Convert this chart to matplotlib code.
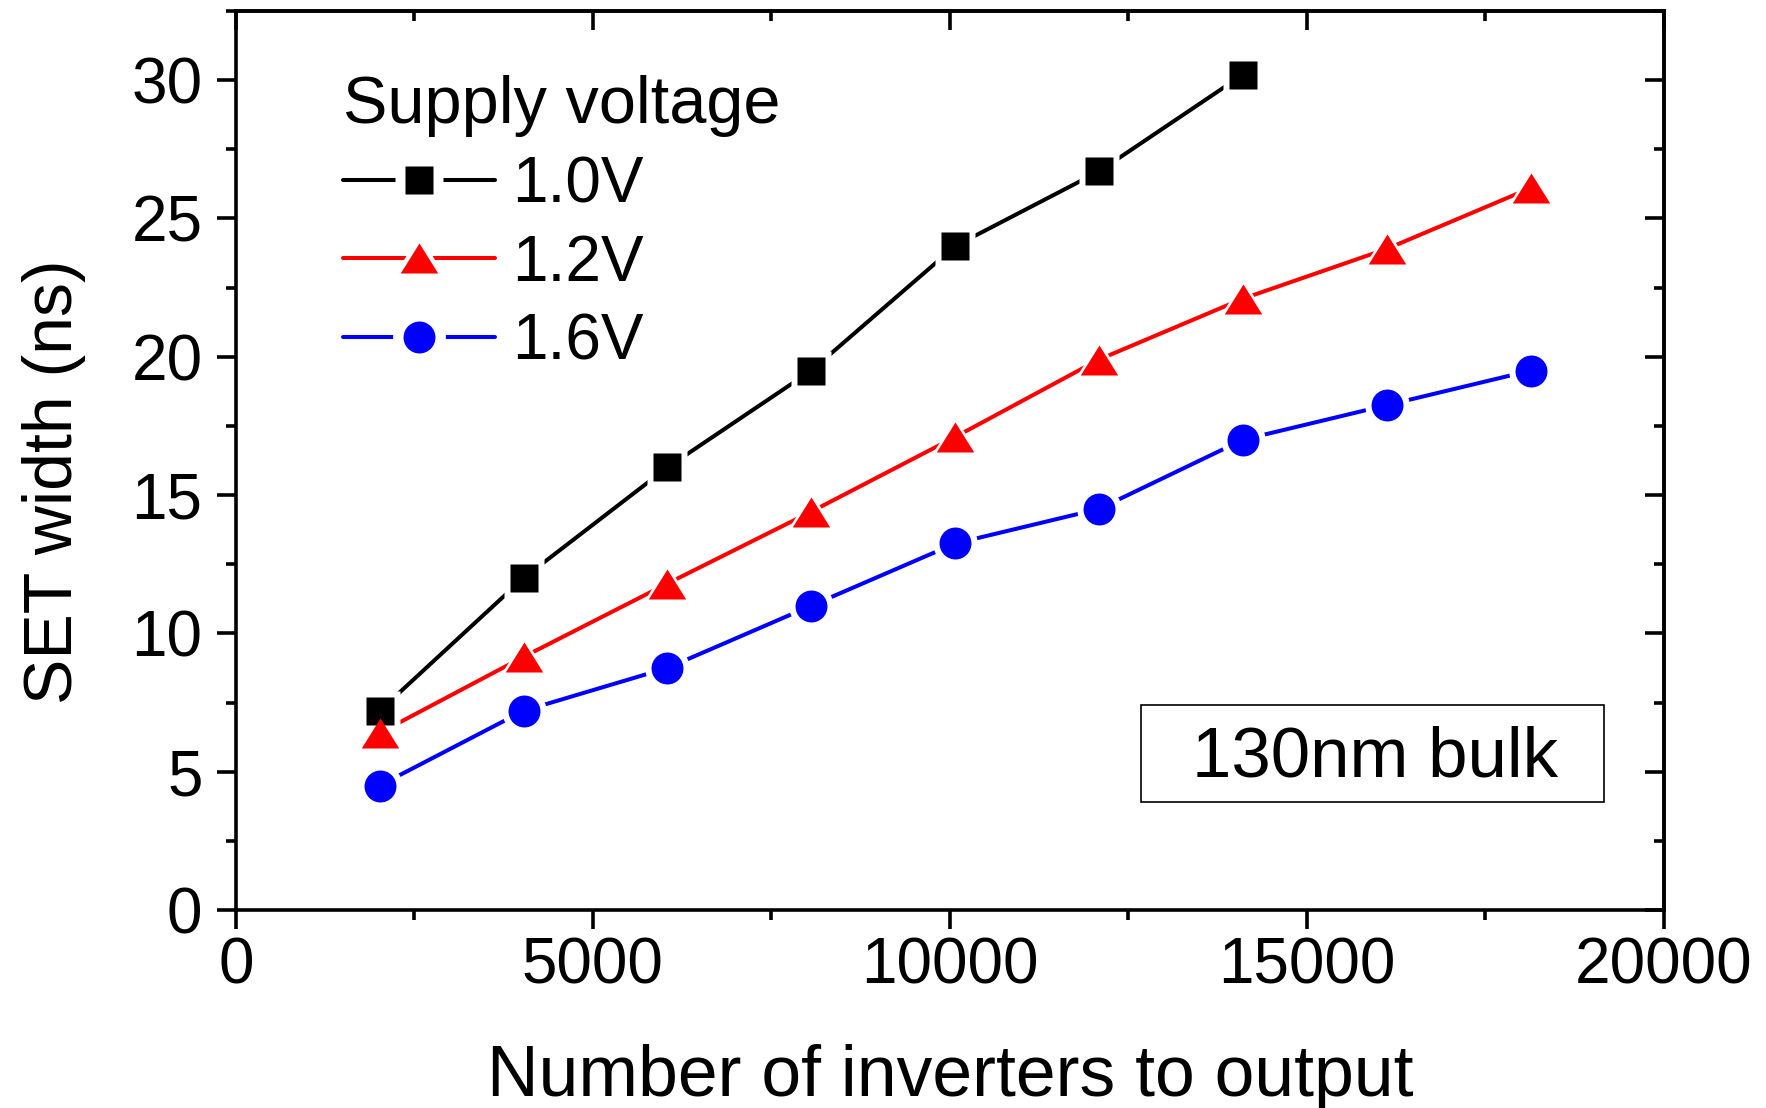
import matplotlib
matplotlib.use("Agg")
import matplotlib.pyplot as plt
from matplotlib.lines import Line2D
from matplotlib.patches import Rectangle
from matplotlib.ticker import MultipleLocator

plt.rcParams["font.family"] = ["Liberation Sans", "DejaVu Sans"]

# number of inverters between strike point and output
n_inv = [2015, 4030, 6045, 8060, 10075, 12090, 14105, 16120, 18135]

# SET pulse width (ns) per supply voltage
set_10 = [7.2, 12.0, 16.0, 19.5, 24.0, 26.7, 30.2]
set_12 = [6.4, 9.15, 11.8, 14.4, 17.1, 19.9, 22.1, 23.9, 26.1]
set_16 = [4.5, 7.2, 8.75, 11.0, 13.25, 14.5, 17.0, 18.25, 19.5]

labels = ["1.0V", "1.2V", "1.6V"]
colors = ["black", "#ff0000", "#0000ff"]

# wide, flat triangle like the Origin default
tri = [(0, 0.8), (-1, -0.8), (1, -0.8)]
markers = ["s", tri, "o"]
msizes = [20, 27, 23]
gap = 9       # white halo around markers on the plot, in points
leg_gap = 15  # wider halo in the legend samples

fig = plt.figure(figsize=(17.66, 11.08), dpi=100)
ax = fig.add_axes([0.1335, 0.1787, 0.8087, 0.8114])

handles = []
for i, y in enumerate([set_10, set_12, set_16]):
    x = n_inv[:len(y)]
    ln, = ax.plot(x, y, color=colors[i], lw=2.9, zorder=2, solid_capstyle="round")
    ax.plot(x, y, ls="none", marker=markers[i], ms=msizes[i] + gap,
            mfc="white", mec="none", zorder=3)
    mk, = ax.plot(x, y, ls="none", marker=markers[i], ms=msizes[i],
                  mfc=colors[i], mec="none", zorder=4 + i)
    leg_halo = Line2D([], [], ls="none", marker=markers[i],
                      ms=msizes[i] + leg_gap, mfc="white", mec="none")
    handles.append((ln, leg_halo, mk))

ax.set_xlim(0, 20000)
ax.set_ylim(0, 32.5)
ax.xaxis.set_major_locator(MultipleLocator(5000))
ax.xaxis.set_minor_locator(MultipleLocator(2500))
ax.yaxis.set_major_locator(MultipleLocator(5))
ax.yaxis.set_minor_locator(MultipleLocator(2.5))

for s in ax.spines.values():
    s.set_linewidth(2.6)

ax.tick_params(which="both", direction="out", width=2.6, top=False, right=False,
               labelsize=46)
ax.tick_params(which="major", length=14)
ax.tick_params(which="minor", length=7)
ax.tick_params(axis="x", pad=5)
ax.tick_params(axis="y", pad=10)

# inward ticks on the top and right frame
top = ax.secondary_xaxis("top")
right = ax.secondary_yaxis("right")
for sec, loc_maj, loc_min in [(top, 5000, 2500), (right, 5, 2.5)]:
    sec_axis = sec.xaxis if sec is top else sec.yaxis
    sec_axis.set_major_locator(MultipleLocator(loc_maj))
    sec_axis.set_minor_locator(MultipleLocator(loc_min))
    sec.tick_params(which="both", direction="in", width=2.6,
                    labeltop=False, labelright=False)
    sec.tick_params(which="major", length=14)
    sec.tick_params(which="minor", length=7)
    for s in sec.spines.values():
        s.set_linewidth(2.6)

ax.set_xlabel("Number of inverters to output", fontsize=51.5)
ax.xaxis.set_label_coords(0.5, -0.1485)
ax.set_ylabel("SET width (ns)", fontsize=49)
ax.yaxis.set_label_coords(-0.105, 0.476)

leg = ax.legend(handles, labels, title="Supply voltage", loc="upper left",
                bbox_to_anchor=(0.075, 0.929), frameon=False, fontsize=46,
                title_fontsize=48, alignment="left", borderpad=0,
                borderaxespad=0, handlelength=2.38, handletextpad=0.27,
                labelspacing=0.29)

ax.add_patch(Rectangle((0.634, 0.120), 0.324, 0.108, transform=ax.transAxes,
                       fill=False, ec="black", lw=1.2, zorder=6))
ax.text(0.798, 0.169, "130nm bulk", transform=ax.transAxes, fontsize=51,
        ha="center", va="center", zorder=6)

fig.savefig("out.png", dpi=100)
